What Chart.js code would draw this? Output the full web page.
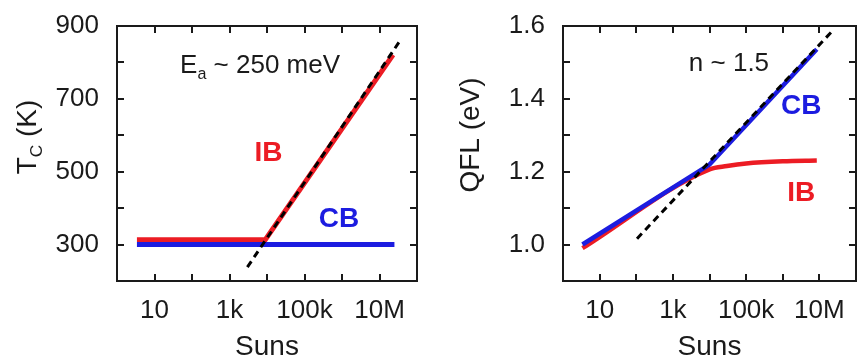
<!DOCTYPE html>
<html>
<head>
<meta charset="utf-8">
<script src="https://cdn.jsdelivr.net/npm/chart.js@4"></script>
<style>
html, body { margin: 0; padding: 0; background: #fff; }
#wrap { position: relative; width: 862px; height: 362px; overflow: hidden; }
.box { position: absolute; top: 0; width: 431px; height: 362px; }
.overlay { position: absolute; left: 0; top: 0; width: 431px; height: 362px; pointer-events: none; }
.overlay div { position: absolute; background: #1a1a1a; }
.overlay .frame { background: transparent; border: 2px solid #1a1a1a; box-sizing: border-box; }
</style>
</head>
<body>
<div id="wrap">
  <div class="box" id="tcBox" style="left:0"><canvas id="tc"></canvas></div>
  <div class="box" id="qflBox" style="left:431px"><canvas id="qfl"></canvas></div>
</div>
<script>
// x axis: one tick per decade, only some labelled
const sunsTicks = [1, 10, 100, 1e3, 1e4, 1e5, 1e6, 1e7, 1e8];
const sunsLabels = { 10: '10', 1000: '1k', 100000: '100k', 10000000: '10M' };

// left panel: carrier temperature T_C (K)
const tcCbSuns = [3.4, 2.5e7];
const tcCb = [300, 300];
const tcIbSuns = [3.4, 9000, 2.3e7];
const tcIb = [313, 313, 820];
const tcFitSuns = [3000, 3.6e7];
const tcFit = [238, 860];

// right panel: quasi fermi level (eV)
const qflCbSuns = [3.4, 1e4, 8.5e6];
const qflCb = [1.0, 1.219, 1.535];
const qflIbSuns = [3.4, 1e4, 3e4, 1e5, 1e6, 8.5e6];
const qflIb = [0.99, 1.206, 1.215, 1.222, 1.228, 1.23];
const qflFitSuns = [105, 2.3e7];
const qflFit = [1.016, 1.586];

const RED = '#ec1c24';
const BLUE = '#1c1ce0';
const INK = '#1a1a1a';
const FONT = '"Liberation Sans", Arial, sans-serif';

function pts(xs, ys) {
    return xs.map((x, i) => ({ x: x, y: ys[i] }));
}

// draws text with optional subscript parts
function drawParts(ctx, parts, x, y, size, weight, color, align) {
    const font = s => weight + ' ' + s + 'px ' + FONT;
    let w = 0;
    parts.forEach(p => {
        ctx.font = font(p.sub ? size * 0.62 : size);
        w += ctx.measureText(p.t).width;
    });
    let cx = align === 'left' ? x : x - w / 2;
    ctx.fillStyle = color;
    ctx.textAlign = 'left';
    ctx.textBaseline = 'middle';
    parts.forEach(p => {
        const s = p.sub ? size * 0.62 : size;
        ctx.font = font(s);
        ctx.fillText(p.t, cx, p.sub ? y + size * 0.32 : y);
        cx += ctx.measureText(p.t).width;
    });
}

function addDiv(parent, cls, l, t, w, h) {
    const d = document.createElement('div');
    if (cls) d.className = cls;
    d.style.left = l + 'px';
    d.style.top = t + 'px';
    d.style.width = w + 'px';
    d.style.height = h + 'px';
    parent.appendChild(d);
}

// frame and inward ticks as an overlay, placed from the chart's own scales
function buildFrame(chart, boxId) {
    const box = document.getElementById(boxId);
    let ov = box.querySelector('.overlay');
    if (!ov) {
        ov = document.createElement('div');
        ov.className = 'overlay';
        box.appendChild(ov);
    }
    ov.innerHTML = '';
    const a = chart.chartArea;
    const sx = chart.scales.x, sy = chart.scales.y;
    const L = Math.round(a.left), R = Math.round(a.right);
    const T = Math.round(a.top), B = Math.round(a.bottom);
    sx.ticks.forEach(t => {
        const px = Math.round(sx.getPixelForValue(t.value));
        addDiv(ov, '', px - 1, B - 7, 2, 7);
        addDiv(ov, '', px - 1, T, 2, 7);
    });
    sy.ticks.forEach(t => {
        const py = Math.round(sy.getPixelForValue(t.value));
        addDiv(ov, '', L, py - 1, 7, 2);
        addDiv(ov, '', R - 7, py - 1, 7, 2);
    });
    addDiv(ov, 'frame', L - 1, T - 1, R - L + 2, B - T + 2);
}

// one plugin object per chart: labels, axis titles, frame overlay
function framePlugin(cfg) {
    return {
        id: 'frame_' + cfg.name,
        afterDraw(chart) {
            const ctx = chart.ctx;
            const a = chart.chartArea;
            const sx = chart.scales.x, sy = chart.scales.y;
            ctx.save();
            cfg.notes.forEach(n => {
                drawParts(ctx, n.parts, sx.getPixelForValue(n.x), sy.getPixelForValue(n.y),
                    n.size, n.bold ? 'bold' : 'normal', n.color, n.align);
            });
            drawParts(ctx, [{ t: 'Suns' }], (a.left + a.right) / 2, cfg.xTitleY, 28, 'normal', INK);
            ctx.translate(cfg.yTitleAt[0], cfg.yTitleAt[1]);
            ctx.rotate(-Math.PI / 2);
            drawParts(ctx, cfg.yTitle, 0, 0, 28, 'normal', INK);
            ctx.restore();
            buildFrame(chart, cfg.box);
        }
    };
}

function makeChart(id, datasets, yOpts, cfg, pad) {
    const ctx = document.getElementById(id).getContext('2d');
    return new Chart(ctx, {
        type: 'line',
        data: { datasets: datasets },
        options: {
            responsive: true,
            maintainAspectRatio: false,
            animation: false,
            layout: { padding: pad },
            elements: { point: { radius: 0 } },
            plugins: {
                legend: { display: false },
                tooltip: { enabled: false }
            },
            scales: {
                x: {
                    type: 'logarithmic',
                    min: 1,
                    max: 1e8,
                    grid: { display: false },
                    border: { display: false },
                    afterBuildTicks: s => { s.ticks = sunsTicks.map(v => ({ value: v })); },
                    afterFit: s => { s.height = 81; },
                    ticks: {
                        autoSkip: false,
                        maxRotation: 0,
                        padding: 6,
                        color: INK,
                        font: { family: FONT, size: 26 },
                        callback: v => sunsLabels[v] || ''
                    }
                },
                y: yOpts
            }
        },
        plugins: [framePlugin(cfg)]
    });
}

makeChart('tc', [
    { data: pts(tcFitSuns, tcFit), borderColor: '#000', borderWidth: 3, borderDash: [7, 5] },
    { data: pts(tcCbSuns, tcCb), borderColor: BLUE, borderWidth: 5 },
    { data: pts(tcIbSuns, tcIb), borderColor: RED, borderWidth: 5 }
], {
    type: 'linear',
    min: 200,
    max: 900,
    grid: { display: false },
    border: { display: false },
    afterFit: s => { s.width = 117; },
    ticks: {
        stepSize: 100,
        padding: 10,
        color: INK,
        font: { family: FONT, size: 26 },
        callback: v => (v % 200 === 100 ? String(v) : '')
    }
}, {
    name: 'tc',
    box: 'tcBox',
    xTitleY: 347,
    yTitleAt: [28, 137],
    yTitle: [{ t: 'T' }, { t: 'C', sub: true }, { t: ' (K)' }],
    notes: [
        { parts: [{ t: 'E' }, { t: 'a', sub: true }, { t: ' ~ 250 meV' }], x: 48, y: 789, size: 26, color: INK, align: 'left' },
        { parts: [{ t: 'IB' }], x: 11000, y: 549, size: 28, bold: true, color: RED },
        { parts: [{ t: 'CB' }], x: 830000, y: 370, size: 28, bold: true, color: BLUE }
    ]
}, { top: 22, right: 14, left: 0, bottom: 0 });

makeChart('qfl', [
    { data: pts(qflFitSuns, qflFit), borderColor: '#000', borderWidth: 3, borderDash: [7, 5] },
    { data: pts(qflCbSuns, qflCb), borderColor: BLUE, borderWidth: 4.5 },
    { data: pts(qflIbSuns, qflIb), borderColor: RED, borderWidth: 4.5, cubicInterpolationMode: 'monotone' }
], {
    type: 'linear',
    min: 0.9,
    max: 1.6,
    grid: { display: false },
    border: { display: false },
    afterFit: s => { s.width = 132; },
    ticks: {
        stepSize: 0.1,
        padding: 10,
        color: INK,
        font: { family: FONT, size: 26 },
        callback: v => (Math.round(v * 10) % 2 === 0 ? v.toFixed(1) : '')
    }
}, {
    name: 'qfl',
    box: 'qflBox',
    xTitleY: 347,
    yTitleAt: [40, 135],
    yTitle: [{ t: 'QFL (eV)' }],
    notes: [
        { parts: [{ t: 'n ~ 1.5' }], x: 34000, y: 1.495, size: 26, color: INK },
        { parts: [{ t: 'CB' }], x: 3.2e6, y: 1.378, size: 28, bold: true, color: BLUE },
        { parts: [{ t: 'IB' }], x: 3.2e6, y: 1.14, size: 28, bold: true, color: RED }
    ]
}, { top: 23, right: 5, left: 0, bottom: 0 });
</script>
</body>
</html>
